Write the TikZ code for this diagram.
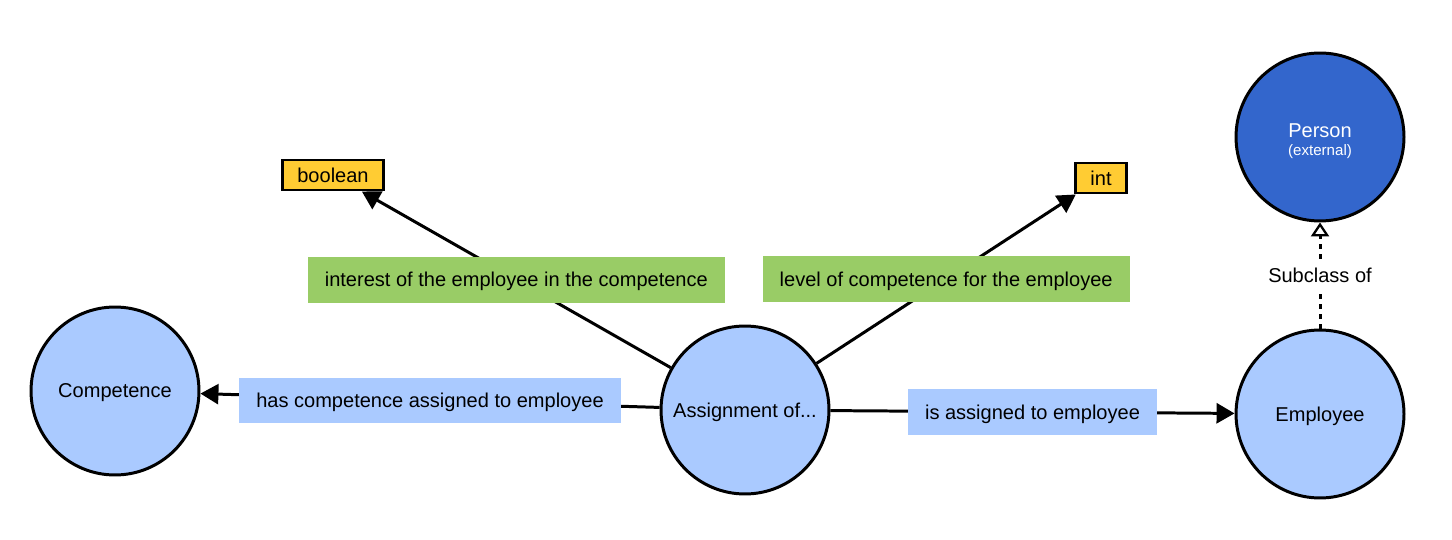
\documentclass[tikz,border=0pt]{standalone}
\usepackage{fontspec}
\setmainfont{Liberation Sans}
\usetikzlibrary{arrows.meta}
\definecolor{classblue}{RGB}{170,202,255}
\definecolor{extblue}{RGB}{51,102,204}
\definecolor{attrgreen}{RGB}{153,204,102}
\definecolor{typeyellow}{RGB}{255,204,51}
\newcommand\diagfont{\fontsize{11.4}{13.7}\selectfont}
\tikzset{
  classnode/.style= {
    circle,
    draw = black,
    fill = classblue,
    line width = 1.7pt,
    minimum size = 3.36cm,
    inner sep = 0pt,
    text depth = 0pt,
    font = \diagfont
  },
  extnode/.style= {
    classnode,
    fill = extblue,
    text = white,
    text height = 20.5pt,
    align = center
  },
  typenode/.style= {
    rectangle,
    draw = black,
    fill = typeyellow,
    line width = 1.7pt,
    inner xsep = 0.3cm,
    inner ysep = 0pt,
    minimum height = 0.6cm,
    text depth = 0pt,
    font = \diagfont
  },
  rellabel/.style= {
    rectangle,
    fill = classblue,
    inner xsep = 0.34cm,
    inner ysep = 0pt,
    minimum height = 0.92cm,
    text depth = 0pt,
    font = \diagfont
  },
  attrlabel/.style= {
    rellabel,
    fill = attrgreen
  },
  relarrow/.style= {
    -{Triangle[length=0.36cm,width=0.4cm]},
    line width = 1.7pt
  },
  subarrow/.style= {
    -{Triangle[open,length=0.28cm,width=0.36cm,line width=1.3pt]},
    line width = 1.7pt,
    dash pattern = on 0.09cm off 0.11cm
  }
}
\begin{document}
\begin{tikzpicture}[x=0.02cm,y=-0.02cm]
  \useasboundingbox (0,0) rectangle (1452,540);

  \node[classnode] (comp) at (115,391) {Competence};
  \node[classnode] (asg) at (745,410) {Assignment of...};
  \node[classnode] (emp) at (1320,414) {Employee};
  \node[extnode] (person) at (1320,137) {Person\\[-4pt]{\fontsize{8.6}{10}\selectfont (external)}};

  \node[typenode] (bool) at (333,175) {boolean};
  \node[typenode] (int) at (1101,178) {int};

  \draw[relarrow] (asg) -- node[attrlabel]{interest of the employee in the competence} (bool);
  \draw[relarrow] (asg) -- node[attrlabel]{level of competence for the employee} (int);
  \draw[relarrow] (asg) -- node[rellabel]{has competence assigned to employee} (comp);
  \draw[relarrow] (asg) -- node[rellabel]{is assigned to employee} (emp);

  \draw[subarrow] (emp) -- node[fill=white,font=\diagfont]{Subclass of} (person);
\end{tikzpicture}
\end{document}
